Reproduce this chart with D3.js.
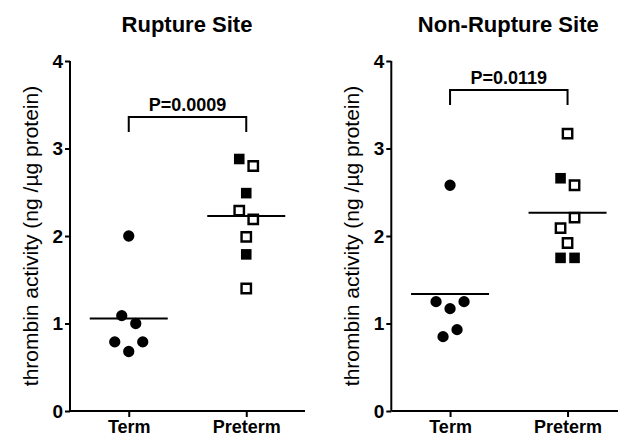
<!DOCTYPE html>
<html lang="en">
<head>
<meta charset="UTF-8" />
<title>Thrombin activity</title>
<style>
  body { margin: 0; background: #fff; }
  svg { display: block; font-family: "Liberation Sans", Arial, sans-serif; }
</style>
</head>
<body>
<script src="https://cdn.jsdelivr.net/npm/d3@7"></script>
<div id="app"></div>
<script>
// data
const panelTitles = ["Rupture Site", "Non-Rupture Site"];
const groups = ["Term", "Preterm"];
const pValues = ["P=0.0009", "P=0.0119"];
const bracketLevel = [3.36, 3.67];
const yTicks = [0, 1, 2, 3, 4];

// Rupture site
const ruptureTerm = [2.0, 1.09, 1.0, 0.79, 0.79, 0.68];
const ruptureTermSlot = [0, -1, 1, -2, 2, 0];
const rupturePreterm = [2.88, 2.80, 2.49, 2.29, 2.19, 1.99, 1.79, 1.40];
const rupturePretermSlot = [-1, 1, 0, -1, 1, 0, 0, 0];
const rupturePretermFilled = [true, false, true, false, false, false, true, false];

// Non-rupture site
const nonTerm = [2.58, 1.25, 1.25, 1.17, 0.85, 0.93];
const nonTermSlot = [0, -2, 2, 0, -1, 1];
const nonPreterm = [3.17, 2.66, 2.58, 2.21, 2.09, 1.92, 1.75, 1.75];
const nonPretermSlot = [0, -1, 1, 1, -1, 0, -1, 1];
const nonPretermFilled = [false, true, false, false, false, false, true, true];

const panels = [
  { term: ruptureTerm, termSlot: ruptureTermSlot, pre: rupturePreterm, preSlot: rupturePretermSlot, preFilled: rupturePretermFilled },
  { term: nonTerm, termSlot: nonTermSlot, pre: nonPreterm, preSlot: nonPretermSlot, preFilled: nonPretermFilled }
];

const w = 618, h = 437;
const svg = d3.select("#app").append("svg").attr("width", w).attr("height", h);

const y = d3.scaleLinear().domain([0, 4]).range([411, 61]);
const jitter = d3.scalePoint().domain([-2, -1, 0, 1, 2]).range([-14, 14]);
const panelLeft = [70, 391.3];
const axisLen = 235;

panels.forEach((p, i) => {
  const g = svg.append("g").attr("transform", "translate(" + panelLeft[i] + ",0)");
  const x = d3.scalePoint().domain(groups).range([0, axisLen]).padding(0.5);

  // title
  svg.append("text")
    .attr("x", panelLeft[i] + 117)
    .attr("y", 32)
    .attr("text-anchor", "middle")
    .style("font-weight", "bold")
    .style("font-size", "22px")
    .text(panelTitles[i]);

  // y axis
  const yAxis = g.append("g").call(d3.axisLeft(y).tickValues(yTicks).tickSize(5).tickPadding(2).tickFormat(d3.format("d")));
  yAxis.select(".domain").attr("stroke-width", 2).attr("d", "M0," + y(4) + "V" + y(0));
  yAxis.selectAll(".tick line").attr("stroke-width", 2);
  yAxis.selectAll(".tick text").style("font-size", "19px").style("font-weight", "bold").attr("fill", "#000");

  // x axis
  const xAxis = g.append("g").attr("transform", "translate(0," + y(0) + ")")
    .call(d3.axisBottom(x).tickSize(6).tickPadding(3));
  xAxis.select(".domain").attr("stroke-width", 2).attr("d", "M0,0H" + axisLen);
  xAxis.selectAll(".tick line").attr("stroke-width", 2);
  xAxis.selectAll(".tick text").style("font-size", "18px").style("font-weight", "bold").attr("fill", "#000");

  // y label
  g.append("text")
    .attr("transform", "translate(" + (-32) + "," + 236 + ") rotate(-90)")
    .attr("text-anchor", "middle")
    .style("font-size", "21px")
    .text("thrombin activity (ng /\u00b5g protein)");

  // points
  const circle = d3.symbol().type(d3.symbolCircle).size(100);
  g.selectAll(".term").data(p.term).enter().append("path")
    .attr("class", "term")
    .attr("d", circle)
    .attr("transform", (d, j) => "translate(" + (x("Term") + jitter(p.termSlot[j])) + "," + y(d) + ")")
    .attr("fill", "#000");

  const preData = p.pre.map((v, j) => ({ v: v, slot: p.preSlot[j], filled: p.preFilled[j] }));
  g.selectAll(".pre").data(preData).enter().append("path")
    .attr("class", "pre")
    .attr("d", d => d3.symbol().type(d3.symbolSquare).size(d.filled ? 112 : 88)())
    .attr("transform", d => "translate(" + (x("Preterm") + jitter(d.slot)) + "," + y(d.v) + ")")
    .attr("fill", d => d.filled ? "#000" : "#fff")
    .attr("stroke", d => d.filled ? "none" : "#000")
    .attr("stroke-width", 2.4);

  // mean lines
  const means = [d3.mean(p.term), d3.mean(p.pre)];
  g.selectAll(".mean").data(means).enter().append("line")
    .attr("x1", (d, j) => x(groups[j]) - 39)
    .attr("x2", (d, j) => x(groups[j]) + 39)
    .attr("y1", d => y(d)).attr("y2", d => y(d))
    .attr("stroke", "#000").attr("stroke-width", 2);

  // significance bracket
  const by = y(bracketLevel[i]);
  g.append("path")
    .attr("d", "M" + x("Term") + "," + (by + 15) + "V" + by + "H" + x("Preterm") + "V" + (by + 15))
    .attr("fill", "none").attr("stroke", "#000").attr("stroke-width", 2);
  g.append("text")
    .attr("x", (x("Term") + x("Preterm")) / 2)
    .attr("y", by - 6)
    .attr("text-anchor", "middle")
    .style("font-size", "18px")
    .style("font-weight", "bold")
    .text(pValues[i]);
});
</script>
</body>
</html>
